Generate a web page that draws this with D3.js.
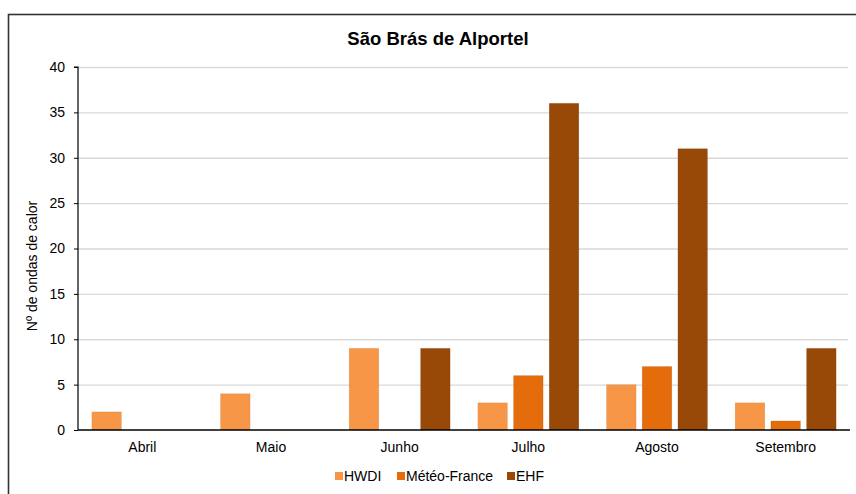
<!DOCTYPE html>
<html><head><meta charset="utf-8">
<script src="https://cdn.jsdelivr.net/npm/d3@7"></script>
<style>body{margin:0;background:#fff}svg{display:block}text{font-family:"Liberation Sans",Arial,sans-serif}</style>
</head><body><svg id="c" width="856" height="494"></svg>
<script>
const months = ["Abril","Maio","Junho","Julho","Agosto","Setembro"];
const seriesNames = ["HWDI","Météo-France","EHF"];
const hwdi = [2,4,9,3,5,3];
const meteo = [0,0,0,6,7,1];
const ehf = [0,0,9,36,31,9];
const yTicks = [0,5,10,15,20,25,30,35,40];
const colors = ["#F79646","#E46C0A","#984807"];
const values = [hwdi, meteo, ehf];

const svg = d3.select("#c");
const m = {l:78, r:850, t:67, b:430};
const FONT = "Liberation Sans, Arial, sans-serif";
// outer border
svg.append("rect").attr("x",8.5).attr("y",14.5).attr("width",900).attr("height",600)
  .attr("fill","none").attr("stroke","#333").attr("stroke-width",1.6);

const y = d3.scaleLinear().domain([0,40]).range([m.b,m.t]);
const x0 = d3.scaleBand().domain(months).range([m.l,m.r]).paddingInner(0).paddingOuter(0);
const groupW = 101;
const x1 = d3.scaleBand().domain(seriesNames).range([0,groupW]).paddingInner(0.17).paddingOuter(0);

// gridlines
svg.append("g").selectAll("line").data(yTicks.filter(d=>d>0)).join("line")
  .attr("x1",m.l).attr("x2",848).attr("y1",d=>y(d)+0.5).attr("y2",d=>y(d)+0.5)
  .attr("stroke","#d9d9d9").attr("stroke-width",1.3);

// bars
const g = svg.append("g");
months.forEach((mo,i)=>{
  const gx = x0(mo) + (x0.bandwidth()-groupW)/2;
  seriesNames.forEach((s,j)=>{
    const v = values[j][i];
    if (v<=0) return;
    g.append("rect").attr("x",gx+x1(s)).attr("width",x1.bandwidth())
      .attr("y",y(v)).attr("height",y(0)-y(v)).attr("fill",colors[j])
      .attr("stroke","rgba(0,0,0,0.08)").attr("stroke-width",0.8);
  });
});

// y axis
const ya = svg.append("g").attr("transform",`translate(${m.l},0)`)
  .call(d3.axisLeft(y).tickValues(yTicks).tickSize(4).tickPadding(9));
ya.select(".domain").attr("stroke","#000").attr("stroke-width",1.2).attr("d",`M-4,${m.t}H0V${m.b}`);
ya.selectAll(".tick line").attr("stroke","#000");
ya.selectAll(".tick text").attr("font-size",14).attr("fill","#000").attr("font-family",FONT);

// x axis
const xa = svg.append("g").attr("transform",`translate(0,${m.b})`)
  .call(d3.axisBottom(x0).tickSize(0).tickPadding(12));
xa.select(".domain").attr("stroke","#000").attr("stroke-width",1.5).attr("d",`M${m.l},0H${m.r}`);
xa.selectAll(".tick text").attr("font-size",14).attr("fill","#000").attr("font-family",FONT);

// title
svg.append("text").attr("x",438).attr("y",45).attr("text-anchor","middle")
  .attr("font-size",18.5).attr("font-weight","bold").text("São Brás de Alportel");

// y label
svg.append("text").attr("transform","translate(37,266) rotate(-90)").attr("text-anchor","middle")
  .attr("font-size",14).text("Nº de ondas de calor");

// legend
const legX = [335,397,507];
seriesNames.forEach((s,j)=>{
  svg.append("rect").attr("x",legX[j]).attr("y",472).attr("width",8).attr("height",8).attr("fill",colors[j]);
  svg.append("text").attr("x",legX[j]+9).attr("y",481).attr("font-size",14).text(s);
});
</script></body></html>
